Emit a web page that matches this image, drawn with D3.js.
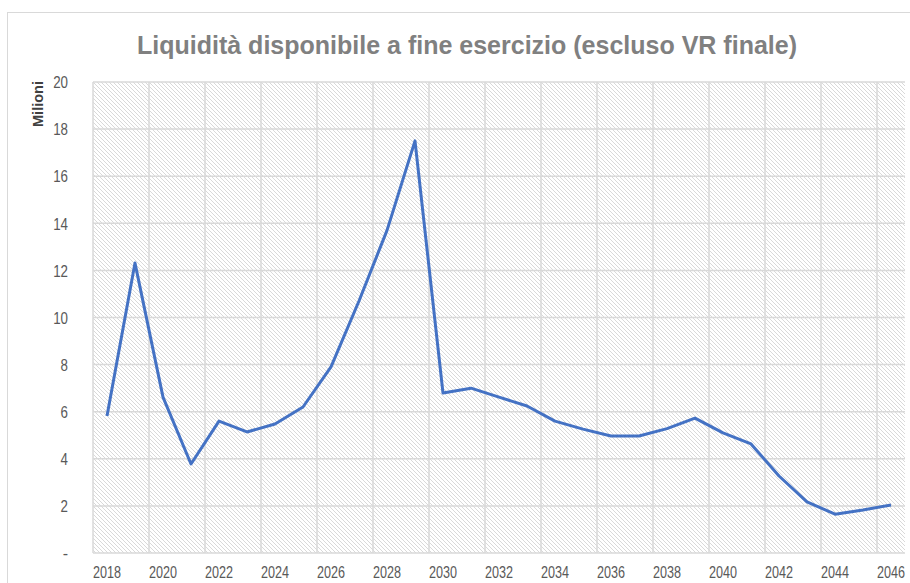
<!DOCTYPE html>
<meta charset="utf-8">
<script src="https://d3js.org/d3.v7.min.js"></script>
<style>
  body { margin: 0; background: #fff; }
  text { font-family: "Liberation Sans Narrow", "Arial Narrow", "Liberation Sans", sans-serif; }
</style>
<div id="chart"></div>
<script>
    // data (milioni)
    var years = d3.range(2018, 2047)
    var liquidita = [5.82, 12.31, 6.62, 3.78, 5.6, 5.14, 5.48, 6.2, 7.9, 10.7,
                     13.7, 17.5, 6.79, 7.0, 6.62, 6.24, 5.6, 5.26, 4.97, 4.97,
                     5.28, 5.73, 5.1, 4.63, 3.27, 2.17, 1.65, 1.83, 2.04]
    var yTicks = [0, 2, 4, 6, 8, 10, 12, 14, 16, 18, 20]
    var xLabels = d3.range(2018, 2047, 2)

    var W = 910, H = 583
    var margin = {top: 82, right: 5, bottom: 30, left: 93},
        width = W - margin.left - margin.right,
        height = H - margin.top - margin.bottom;

    var svg = d3.select("#chart").append("svg")
        .attr("width", W).attr("height", H)

    // hatch pattern for plot area
    var pat = svg.append("defs").append("pattern")
        .attr("id", "hatch")
        .attr("patternUnits", "userSpaceOnUse")
        .attr("width", 4).attr("height", 4)
    pat.append("rect").attr("width", 4).attr("height", 4).attr("fill", "#fff")
    pat.append("path")
        .attr("d", "M-1,-1 L5,5 M-1,3 L1,5 M3,-1 L5,1")
        .attr("stroke", "#d9d9d9").attr("stroke-width", 1)

    // chart frame
    svg.append("rect")
        .attr("x", 7.5).attr("y", 12.5)
        .attr("width", W).attr("height", H)
        .attr("fill", "none").attr("stroke", "#d9d9d9")

    var g = svg.append("g")
        .attr("transform", "translate(" + margin.left + "," + margin.top + ")")

    var x = d3.scaleBand().domain(years).range([0, width])
    var y = d3.scaleLinear().domain([0, 20]).range([height, 0])

    g.append("rect")
        .attr("width", width).attr("height", height)
        .attr("fill", "url(#hatch)")

    // vertical gridlines every two categories
    g.selectAll(".vgrid")
        .data(xLabels)
        .enter().append("line")
        .attr("x1", function(d) { return x(d) })
        .attr("x2", function(d) { return x(d) })
        .attr("y1", 0).attr("y2", height)
        .attr("stroke", "#d9d9d9").attr("stroke-width", 1.5)

    // horizontal gridlines
    g.selectAll(".hgrid")
        .data(yTicks)
        .enter().append("line")
        .attr("x1", 0).attr("x2", width)
        .attr("y1", function(d) { return y(d) })
        .attr("y2", function(d) { return y(d) })
        .attr("stroke", "#d9d9d9").attr("stroke-width", 1.5)

    // y axis labels (squeezed to look like a narrow font)
    var yAxis = g.append("g")
        .attr("transform", "translate(-25,0)")
        .call(d3.axisLeft(y).tickValues(yTicks).tickSize(0).tickPadding(0)
            .tickFormat(function(d) { return d === 0 ? "-" : d }))
    yAxis.select(".domain").remove()
    yAxis.selectAll("text")
        .attr("font-size", "16px").attr("fill", "#595959")
        .style("font-family", null)
        .attr("dy", "0.36em")
        .each(function(d) {
            if (d !== 0) d3.select(this)
                .attr("textLength", String(d).length * 7.4)
                .attr("lengthAdjust", "spacingAndGlyphs")
        })

    // x axis labels
    g.selectAll(".xlab")
        .data(xLabels)
        .enter().append("text")
        .attr("x", function(d) { return x(d) + x.bandwidth() / 2 })
        .attr("y", height + 25)
        .attr("text-anchor", "middle")
        .attr("font-size", "16px")
        .attr("fill", "#595959")
        .attr("textLength", 28)
        .attr("lengthAdjust", "spacingAndGlyphs")
        .text(function(d) { return d })

    // the line
    var line = d3.line()
        .x(function(d, i) { return x(years[i]) + x.bandwidth() / 2 })
        .y(function(d) { return y(d) })
    g.append("path")
        .datum(liquidita)
        .attr("d", line)
        .attr("fill", "none")
        .attr("stroke", "#4472c4")
        .attr("stroke-width", 3)
        .attr("stroke-linejoin", "round")

    // title
    svg.append("text")
        .attr("x", 467).attr("y", 54)
        .attr("text-anchor", "middle")
        .attr("font-size", "26px")
        .attr("font-weight", "bold")
        .attr("fill", "#808080")
        .attr("textLength", 660)
        .attr("lengthAdjust", "spacingAndGlyphs")
        .text("Liquidità disponibile a fine esercizio (escluso VR finale)")

    // y axis title
    svg.append("text")
        .attr("transform", "translate(43,104) rotate(-90)")
        .attr("text-anchor", "middle")
        .attr("font-size", "14px")
        .attr("font-weight", "bold")
        .attr("fill", "#404040")
        .attr("textLength", 46)
        .attr("lengthAdjust", "spacingAndGlyphs")
        .text("Milioni")
</script>
